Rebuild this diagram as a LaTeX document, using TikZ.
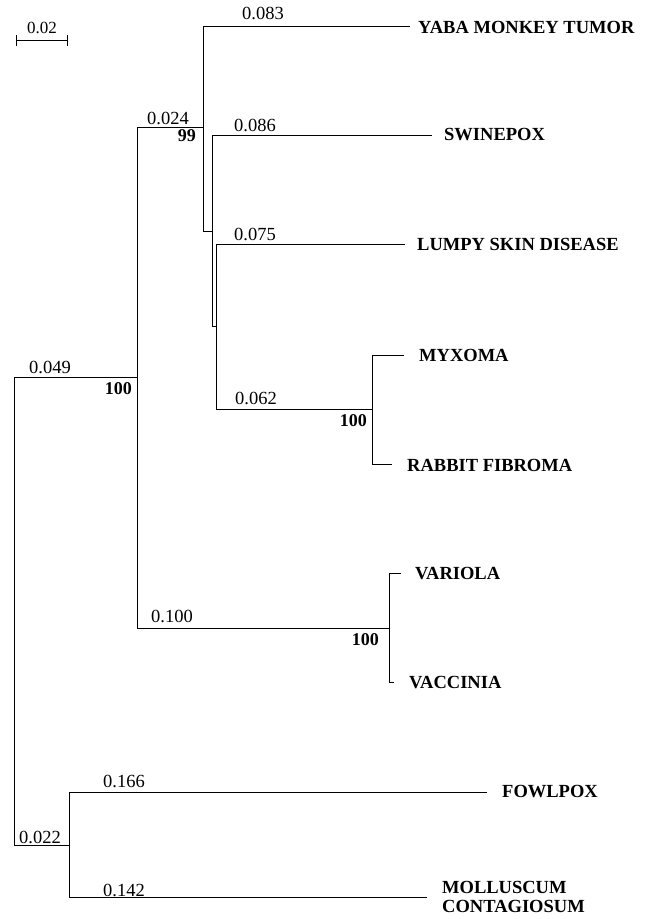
\documentclass[tikz,border=0pt]{standalone}
\usepackage{fontspec}
\setmainfont{Liberation Serif}
\begin{document}
\begin{tikzpicture}[x=1pt,y=-1pt,
  br/.style={line width=0.9pt},
  tip/.style={anchor=west,inner sep=0pt,font=\fontsize{18.5}{19}\selectfont\bfseries},
  len/.style={inner sep=0pt,font=\fontsize{18.5}{20}\selectfont},
  boot/.style={inner sep=0pt,font=\fontsize{18}{20}\selectfont\bfseries}]
\useasboundingbox (0,0) rectangle (653,919);
% internal nodes
\coordinate (R) at (14,611);
\coordinate (A) at (137,377);
\coordinate (G) at (69,845);
\coordinate (B) at (203,127);
\coordinate (F) at (389,628);
\coordinate (C) at (212.5,231);
\coordinate (D) at (216,326);
\coordinate (E) at (372,409);
% tips
\coordinate (tY) at (410,26);
\coordinate (tS) at (432,135);
\coordinate (tL) at (405,244);
\coordinate (tM) at (404,355);
\coordinate (tR) at (392,464);
\coordinate (tV) at (401,573);
\coordinate (tC) at (394,682);
\coordinate (tF) at (487,792);
\coordinate (tO) at (427,897);
% branches
\draw[br] (R) |- (A);
\draw[br] (R) |- (G);
\draw[br] (A) |- (B);
\draw[br] (A) |- (F);
\draw[br] (B) |- (tY);
\draw[br] (B) |- (C);
\draw[br] (C) |- (tS);
\draw[br] (C) |- (D);
\draw[br] (D) |- (tL);
\draw[br] (D) |- (E);
\draw[br] (E) |- (tM);
\draw[br] (E) |- (tR);
\draw[br] (F) |- (tV);
\draw[br] (F) |- (tC);
\draw[br] (G) |- (tF);
\draw[br] (G) |- (tO);
% tip labels
\node[tip] (lY) at (418,27) {YABA MONKEY TUMOR};
\node[tip] (lS) at (444,135) {SWINEPOX};
\node[tip] (lL) at (417,244) {LUMPY SKIN DISEASE};
\node[tip] (lM) at (419,355) {MYXOMA};
\node[tip] (lR) at (407,465) {RABBIT FIBROMA};
\node[tip] (lV) at (415,574) {VARIOLA};
\node[tip] (lC) at (409,683) {VACCINIA};
\node[tip] (lF) at (502,792) {FOWLPOX};
\node[tip,align=left] (lO) at (442,897) {MOLLUSCUM\\CONTAGIOSUM};
% branch lengths
\node[len] (v083) at (263,13) {0.083};
\node[len] (v024) at (168,118) {0.024};
\node[len] (v086) at (255,125) {0.086};
\node[len] (v075) at (255,234) {0.075};
\node[len] (v062) at (256,398) {0.062};
\node[len] (v049) at (50,367) {0.049};
\node[len] (v100) at (172,616) {0.100};
\node[len] (v166) at (124,781) {0.166};
\node[len] (v022) at (40,837) {0.022};
\node[len] (v142) at (124,890) {0.142};
% bootstrap values
\node[boot,anchor=east] (b99) at (196,136) {99};
\node[boot,anchor=east] (b100a) at (367,421) {100};
\node[boot,anchor=east] (b100b) at (132,389) {100};
\node[boot,anchor=east] (b100c) at (379,640) {100};
% scale bar
\coordinate (s1) at (16,40);
\coordinate (s2) at (67,40);
\draw[line width=0.8pt] (s1) -- (s2);
\draw[line width=0.8pt] ([yshift=-6pt]s1) -- ([yshift=5pt]s1);
\draw[line width=0.8pt] ([yshift=-6pt]s2) -- ([yshift=5pt]s2);
\node[len,font=\fontsize{17}{20}\selectfont] (sl) at (42,28) {0.02};
\end{tikzpicture}
\end{document}
